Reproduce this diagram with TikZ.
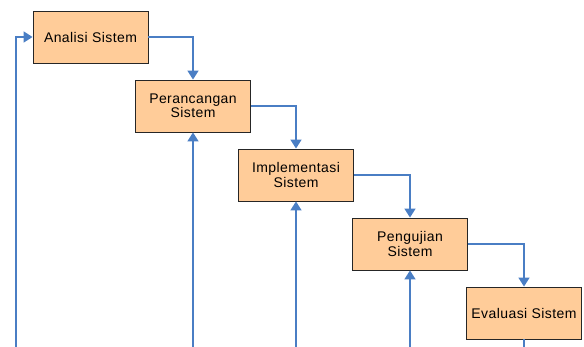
\documentclass[tikz,border=0pt]{standalone}
\usepackage{fontspec}
\setmainfont{Liberation Sans}[LetterSpace=3]
\usetikzlibrary{arrows.meta}

\definecolor{boxfill}{HTML}{FFCC99}
\definecolor{lineblue}{HTML}{4A7EC4}

\begin{document}
\begin{tikzpicture}[x=1pt, y=-1pt,
    % Define the style for the stage boxes
    stage/.style={
        draw=black!85, line width=0.9pt, fill=boxfill,
        minimum width=115pt, minimum height=52pt, inner sep=0pt,
        align=center, font=\fontsize{14}{13}\selectfont
    },
    % Define the style for the blue connectors
    flow/.style={draw=lineblue, line width=1.6pt,
        -{Triangle[length=9pt, width=11pt]}},
    plain/.style={draw=lineblue, line width=1.6pt}
]

\useasboundingbox (0,0) rectangle (584,347);

% Define the stages
\node[stage] (A) at (90.5,37) {Analisi Sistem};
\node[stage] (P) at (193,106) {Perancangan\\Sistem};
\node[stage] (I) at (296,175) {Implementasi\\Sistem};
\node[stage] (U) at (410,244) {Pengujian\\Sistem};
\node[stage] (E) at (524,313) {Evaluasi Sistem};

% Define the loose ends at the bottom
\coordinate (bA) at (16,347);
\coordinate (bP) at (193,347);
\coordinate (bI) at (296,347);
\coordinate (bU) at (410,347);
\coordinate (bE) at (524,347);

% Draw the forward steps
\draw[flow] (A.east) -| (P.north);
\draw[flow] (P.east) -| (I.north);
\draw[flow] (I.east) -| (U.north);
\draw[flow] (U.east) -| (E.north);

% Draw the return lines
\draw[flow] (bA) |- (A.west);
\draw[flow] (bP) -- (P.south);
\draw[flow] (bI) -- (I.south);
\draw[flow] (bU) -- (U.south);
\draw[plain] (E.south) -- (bE);

\end{tikzpicture}
\end{document}
